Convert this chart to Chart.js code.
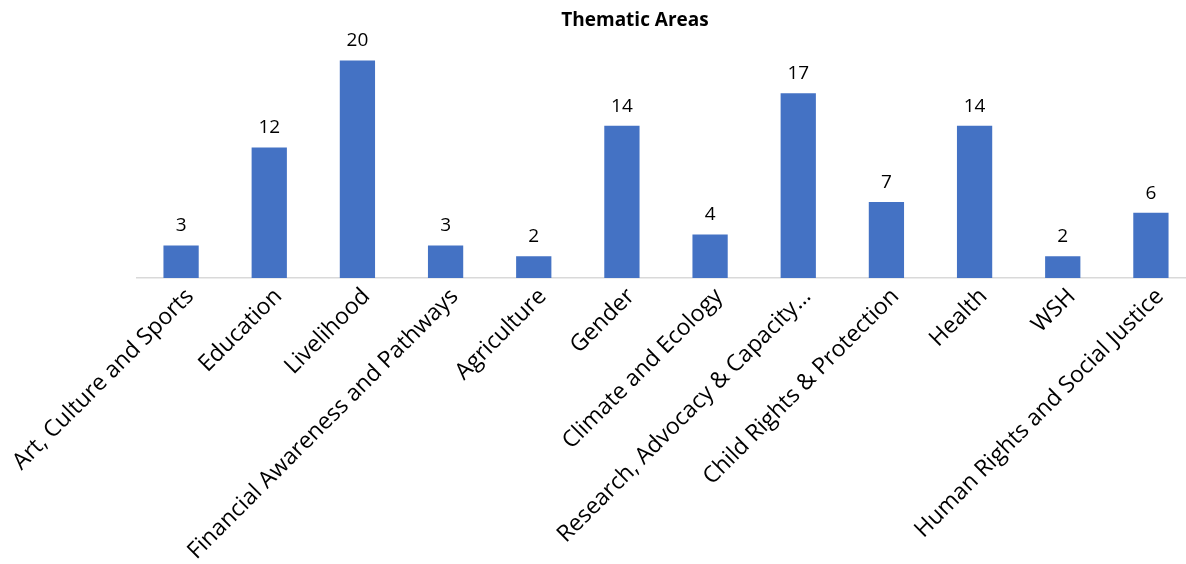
<!DOCTYPE html>
<html>
<head>
<meta charset="utf-8">
<script src="https://cdn.jsdelivr.net/npm/chart.js@4"></script>
<style>
  html, body { margin: 0; padding: 0; background: #fff; overflow: hidden; }
  #wrap { width: 1200px; height: 564px; }
</style>
</head>
<body>
<div id="wrap"><canvas id="myChart"></canvas></div>
<script>
const categories = [
  'Art, Culture and Sports', 'Education', 'Livelihood', 'Financial Awareness and Pathways',
  'Agriculture', 'Gender', 'Climate and Ecology', 'Research, Advocacy & Capacity…',
  'Child Rights & Protection', 'Health', 'WSH', 'Human Rights and Social Justice'
];
const counts = [3, 12, 20, 3, 2, 14, 4, 17, 7, 14, 2, 6];
const chartTitle = 'Thematic Areas';

const FONT = "'Open Sans', 'DejaVu Sans', sans-serif";

// numbers above the bars + the title (centred on the page, not the plot)
const barLabels = {
  id: 'barLabels',
  afterDatasetsDraw(chart) {
    const ctx = chart.ctx;
    const meta = chart.getDatasetMeta(0);
    ctx.save();
    ctx.font = '19px ' + FONT;
    ctx.fillStyle = '#000';
    ctx.textAlign = 'center';
    ctx.textBaseline = 'bottom';
    meta.data.forEach((bar, i) => {
      ctx.fillText(counts[i], bar.x, bar.y - 10);
    });

    ctx.font = 'bold 19px ' + FONT;
    ctx.textBaseline = 'middle';
    ctx.fillText(chartTitle, 635, 21);
    ctx.restore();
  }
};

const ctx = document.getElementById('myChart');
new Chart(ctx, {
  type: 'bar',
  data: {
    labels: categories,
    datasets: [{
      label: 'Count',
      data: counts,
      backgroundColor: '#4472C4',
      barPercentage: 0.8,
      categoryPercentage: 0.5
    }]
  },
  options: {
    responsive: true,
    maintainAspectRatio: false,
    animation: false,
    layout: { padding: { left: 137, right: 5, top: 41, bottom: 0 } },
    plugins: {
      legend: { display: false },
      tooltip: { enabled: false },
      title: { display: false }
    },
    scales: {
      x: {
        grid: { display: false, drawTicks: false },
        border: { display: true, color: '#d9d9d9', width: 1.5 },
        ticks: {
          color: '#000',
          font: { family: FONT, size: 23 },
          minRotation: 45,
          maxRotation: 45,
          autoSkip: false,
          padding: 5,
          labelOffset: 9
        },
        // room for the long slanted labels, plot edges fixed by layout padding
        afterFit(scale) {
          scale.height = 286;
          scale.paddingLeft = 0;
          scale.paddingRight = 0;
        }
      },
      y: {
        display: false,
        min: 0,
        max: 21.8
      }
    }
  },
  plugins: [barLabels]
});
</script>
</body>
</html>
